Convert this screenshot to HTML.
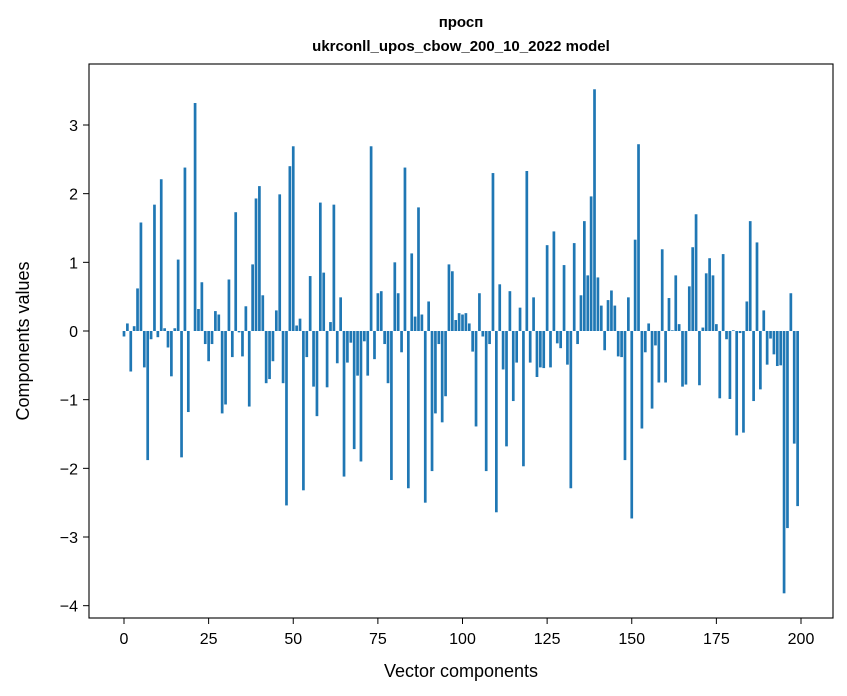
<!DOCTYPE html>
<html><head><meta charset="utf-8"><style>
body{margin:0;background:#fff;}
svg{display:block;font-family:"Liberation Sans","DejaVu Sans",sans-serif;}
</style></head><body>
<svg id="chart" width="847" height="696" viewBox="0 0 847 696" xmlns="http://www.w3.org/2000/svg">
<rect width="847" height="696" fill="#fff"/>
<text x="461" y="27" text-anchor="middle" font-size="15" font-weight="bold" font-family="'Liberation Sans','DejaVu Sans',sans-serif">просп</text>
<text x="461" y="51" text-anchor="middle" font-size="15" font-weight="bold">ukrconll_upos_cbow_200_10_2022 model</text>
<g id="bars"></g>
<rect x="89" y="64" width="744" height="554" fill="none" stroke="#000" stroke-width="1.1"/>
<g id="xticks"></g>
<g id="yticks"></g>
<text x="461" y="677" text-anchor="middle" font-size="18">Vector components</text>
<text transform="translate(29,341) rotate(-90)" text-anchor="middle" font-size="18">Components values</text>
</svg>
<script>
const values = [-0.08,0.11,-0.59,0.07,0.62,1.58,-0.53,-1.88,-0.12,1.84,
-0.09,2.21,0.04,-0.24,-0.66,0.04,1.04,-1.84,2.38,-1.18,
0.0,3.32,0.32,0.71,-0.19,-0.44,-0.19,0.29,0.24,-1.2,
-1.07,0.75,-0.38,1.73,-0.02,-0.37,0.36,-1.10,0.97,1.93,
2.11,0.52,-0.76,-0.70,-0.44,0.30,1.99,-0.76,-2.54,2.40,
2.69,0.08,0.18,-2.32,-0.38,0.80,-0.81,-1.24,1.87,0.85,
-0.82,0.13,1.84,-0.47,0.49,-2.12,-0.46,-0.17,-1.72,-0.65,
-1.90,-0.15,-0.65,2.69,-0.41,0.55,0.58,-0.19,-0.76,-2.17,
1.0,0.55,-0.31,2.38,-2.29,1.13,0.21,1.80,0.24,-2.50,
0.43,-2.04,-1.20,-0.19,-1.33,-0.95,0.97,0.87,0.16,0.26,
0.24,0.26,0.11,-0.30,-1.39,0.55,-0.08,-2.04,-0.19,2.30,
-2.64,0.68,-0.56,-1.68,0.58,-1.02,-0.46,0.34,-1.97,2.33,
-0.46,0.49,-0.67,-0.53,-0.54,1.25,-0.53,1.45,-0.18,-0.25,
0.96,-0.49,-2.29,1.28,-0.19,0.52,1.60,0.81,1.96,3.52,
0.78,0.37,-0.28,0.45,0.59,0.37,-0.37,-0.38,-1.88,0.49,
-2.73,1.33,2.72,-1.42,-0.31,0.11,-1.13,-0.21,-0.75,1.19,
-0.75,0.48,0.01,0.81,0.10,-0.81,-0.78,0.65,1.22,1.70,
-0.79,0.05,0.84,1.06,0.81,0.10,-0.98,1.12,-0.12,-0.99,
0.01,-1.52,-0.03,-1.48,0.43,1.60,-1.02,1.29,-0.85,0.30,
-0.49,-0.11,-0.34,-0.51,-0.50,-3.82,-2.87,0.55,-1.64,-2.55];
const xTickLabels = [0,25,50,75,100,125,150,175,200];
const yTickLabels = [-4,-3,-2,-1,0,1,2,3];
const NS = "http://www.w3.org/2000/svg";
function xs(i){return 124 + i*3.385;}
function ys(v){return 331 - v*68.67;}
const bars = document.getElementById('bars');
values.forEach((v,i)=>{
  const r = document.createElementNS(NS,'rect');
  
  
  const y0 = ys(0), y1 = ys(v);
  r.setAttribute('x', xs(i)-1.35);
  r.setAttribute('width', 2.7);
  r.setAttribute('y', Math.min(y0,y1));
  r.setAttribute('height', Math.abs(y1-y0));
  r.setAttribute('fill','#1f77b4');
  bars.appendChild(r);
});
const xg = document.getElementById('xticks');
xTickLabels.forEach(t=>{
  const l = document.createElementNS(NS,'line');
  
  
  l.setAttribute('x1',xs(t)); l.setAttribute('x2',xs(t));
  l.setAttribute('y1',618); l.setAttribute('y2',624);
  l.setAttribute('stroke','#000');
  xg.appendChild(l);
  const tx = document.createElementNS(NS,'text');
  
  
  tx.setAttribute('x',xs(t)); tx.setAttribute('y',644);
  tx.setAttribute('text-anchor','middle'); tx.setAttribute('font-size','16');
  tx.textContent = t;
  xg.appendChild(tx);
});
const yg = document.getElementById('yticks');
yTickLabels.forEach(t=>{
  const l = document.createElementNS(NS,'line');
  
  
  l.setAttribute('x1',83); l.setAttribute('x2',89);
  l.setAttribute('y1',ys(t)); l.setAttribute('y2',ys(t));
  l.setAttribute('stroke','#000');
  yg.appendChild(l);
  const tx = document.createElementNS(NS,'text');
  
  
  tx.setAttribute('x',78); tx.setAttribute('y',ys(t)+6);
  tx.setAttribute('text-anchor','end'); tx.setAttribute('font-size','16');
  tx.textContent = t<0 ? '\u2212'+Math.abs(t) : t;
  yg.appendChild(tx);
});
</script>
</body></html>
